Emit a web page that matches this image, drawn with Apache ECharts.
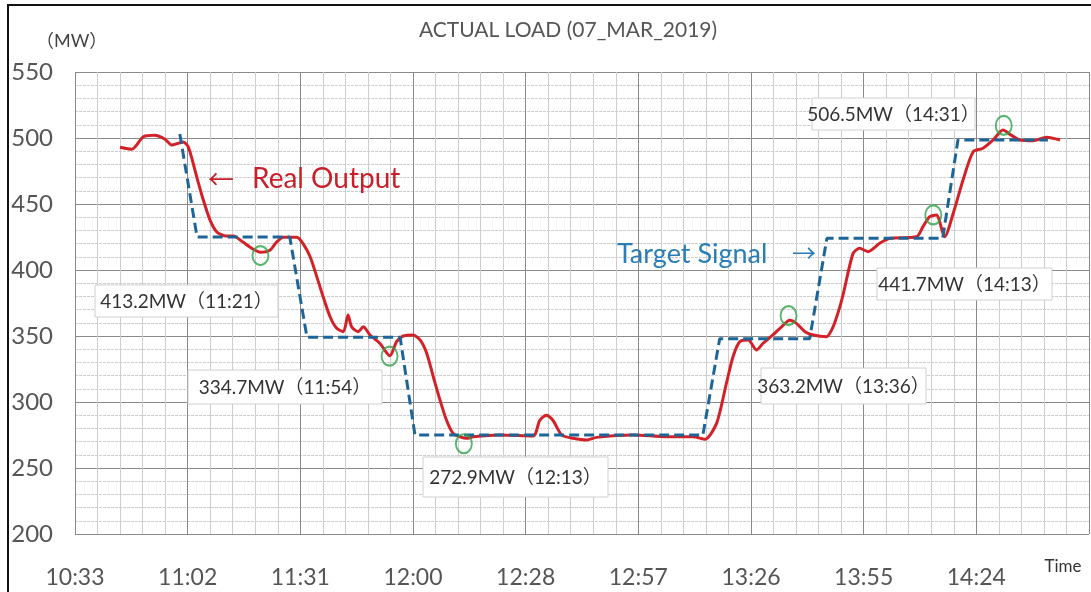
<!DOCTYPE html>
<html>
<head>
<meta charset="utf-8">
<script src="https://cdn.jsdelivr.net/npm/echarts@6/dist/echarts.min.js"></script>
<style>html,body{margin:0;padding:0;background:#fff;}#c{width:1091px;height:592px;}</style>
</head>
<body>
<div id="c"></div>
<script>
// time in minutes after midnight, load in MW
const realTime = [645.1,648.1,651.1,654.0,656.6,658.3,660.0,661.3,662.6,664.7,666.4,668.1,669.8,672.0,674.1,676.6,678.8,681.0,683.4,685.1,686.8,690.3,691.9,693.7,695.4,697.0,698.8,700.5,702.2,703.4,704.3,706.0,707.3,709.0,711.5,714.1,715.8,717.5,720.0,721.8,723.5,725.2,726.9,728.6,730.3,732.0,733.7,735.4,742.2,750.7,752.4,754.1,755.8,758.0,760.9,764.4,766.9,776.3,784.8,791.6,794.6,797.6,800.1,801.8,803.5,805.7,807.8,809.5,812.0,814.2,816.3,818.0,820.2,822.3,825.7,827.4,829.1,830.0,832.5,834.2,836.3,839.3,841.9,848.7,850.4,852.1,853.8,855.9,858.1,860.6,863.2,865.7,868.3,870.8,873.0,875.1,878.5,882.0,883.7,885.4];
const realLoad = [493,491.5,501,502,499,494.7,496,497,493,470.7,453,438,429,425.8,425.8,421,416.4,413.5,415,421,424.8,424.8,420,410,395,380,364.6,355.8,353.3,366,357,353.3,357,350.8,344.5,335,345.7,350,350.8,347,337,319,301.5,286,276,273.7,272.5,273.7,275,274.2,286,290,286,275,272.5,271.2,273.2,275,273.7,273.7,271.7,283.8,314,334.3,345.7,347,339.4,344.5,350.8,357,362,359.6,353.3,350.8,349.5,357,372,382,412.6,416.4,413.9,420.2,424,425.2,433,440.4,441.7,425.2,443,468.2,489.6,492.2,498.5,506,502,498.5,498,500.5,499.7,498.5];
const targetTime = [660.4,664.8,688.5,692.9,716.7,720.5,794.1,798.4,821.4,825.8,855.4,859.3,882.3];
const targetLoad = [503,425,425,349,349,275,275,348,348,424,424,498.5,498.5];
const markTime = [681,714,733,816,853,871];
const markLoad = [413.2,334.7,272.9,363.2,441.7,506.5];
const markText = ['413.2MW（11:21）','334.7MW（11:54）','272.9MW（12:13）','363.2MW（13:36）','441.7MW（14:13）','506.5MW（14:31）'];
const yTicks = [200,250,300,350,400,450,500,550];

const fontLatin = "Lato, 'Noto Sans CJK JP', sans-serif";
function fmt(v){
  const s = Math.round(v*60);
  const h = Math.floor(s/3600), m = Math.floor((s%3600)/60);
  return h + ':' + (m<10?'0':'') + m;
}
const chart = echarts.init(document.getElementById('c'));
const boxes = [
  {x:95,y:285,w:183,h:32},
  {x:188,y:370,w:194,h:34},
  {x:423,y:457,w:185,h:40},
  {x:761,y:368,w:165,h:36},
  {x:877,y:268,w:175,h:32},
  {x:812,y:98,w:163,h:32}
];
const offs = [[0,3],[0,0],[0,6],[0,-3],[0,0],[0,-4]];
const graphics = [
  {type:'rect', shape:{x:8,y:5,width:1200,height:700}, style:{fill:'none',stroke:'#111',lineWidth:2}, z:100},
  {type:'text', x:568, y:30, style:{text:'ACTUAL LOAD (07_MAR_2019)', font:"21px "+fontLatin, fill:'#555', align:'center', verticalAlign:'middle'}},
  {type:'text', x:36, y:41, style:{text:'（MW）', font:"18px "+fontLatin, fill:'#444', align:'left', verticalAlign:'middle'}},
  {type:'text', x:1063, y:567, style:{text:'Time', font:"17px "+fontLatin, fill:'#333', align:'center', verticalAlign:'middle'}},
  {type:'text', x:221, y:179, style:{text:'←', font:"26px 'Noto Sans CJK JP', sans-serif", fill:'#c8202a', align:'center', verticalAlign:'middle'}, z:50},
  {type:'text', x:252, y:179, style:{text:'Real Output', font:"28px "+fontLatin, fill:'#c8202a', align:'left', verticalAlign:'middle'}, z:50},
  {type:'text', x:617, y:254, style:{text:'Target Signal', font:"27px "+fontLatin, fill:'#2a7db5', align:'left', verticalAlign:'middle'}, z:50},
  {type:'text', x:804, y:253, style:{text:'→', font:"24px 'Noto Sans CJK JP', sans-serif", fill:'#2a7db5', align:'center', verticalAlign:'middle'}, z:50}
];
boxes.forEach((b,i)=>{
  graphics.push({type:'rect', shape:{x:b.x,y:b.y,width:b.w,height:b.h}, style:{fill:'#fff',stroke:'#d0d0d0',lineWidth:1}, z:40});
  graphics.push({type:'text', x:b.x+b.w/2, y:b.y+b.h/2+1, style:{text:markText[i], font:"19px "+fontLatin, fill:'#333', align:'center', verticalAlign:'middle'}, z:41});
});

chart.setOption({
  animation:false,
  backgroundColor:'#fff',
  grid:{left:75, top:72, right:2, bottom:58, containLabel:false},
  xAxis:{
    type:'value', min:633.6, max:892.8, interval:28.8,
    axisLine:{show:false}, axisTick:{show:false},
    axisLabel:{margin:32, fontSize:23, color:'#555', fontFamily:fontLatin, showMaxLabel:false,
      formatter:function(v){ return v>890 ? '' : fmt(v); }},
    splitLine:{show:true, lineStyle:{color:'#8a8a8a', width:1}},
    minorTick:{show:false, splitNumber:5},
    minorSplitLine:{show:true, lineStyle:{color:'#cdcdcd', width:1}}
  },
  yAxis:{
    type:'value', min:200, max:550, interval:50,
    axisLine:{show:false}, axisTick:{show:false},
    axisLabel:{margin:22, fontSize:24, color:'#555', fontFamily:fontLatin,
      formatter:function(v){ return yTicks.indexOf(v)>=0 ? String(v) : ''; }},
    splitLine:{show:true, lineStyle:{color:'#8a8a8a', width:1}},
    minorTick:{show:false, splitNumber:5},
    minorSplitLine:{show:true, lineStyle:{color:'#cdcdcd', width:1, type:[3,1]}}
  },
  series:[
    {type:'line', name:'Real Output', data:realTime.map((t,i)=>[t,realLoad[i]]), showSymbol:false, smooth:0.25,
      lineStyle:{color:'#d42027', width:3}, z:3},
    {type:'line', name:'Target Signal', data:targetTime.map((t,i)=>[t,targetLoad[i]]), showSymbol:false,
      lineStyle:{color:'#1d6597', width:3, type:[10,5]}, z:4},
    {type:'scatter', data:markTime.map((t,i)=>({value:[t,markLoad[i]], symbolOffset:offs[i]})), symbol:'circle', symbolSize:[16,19],
      itemStyle:{color:'rgba(0,0,0,0)', borderColor:'#2fa34a', borderWidth:2}, z:5}
  ],
  graphic:graphics
});
</script>
</body>
</html>
